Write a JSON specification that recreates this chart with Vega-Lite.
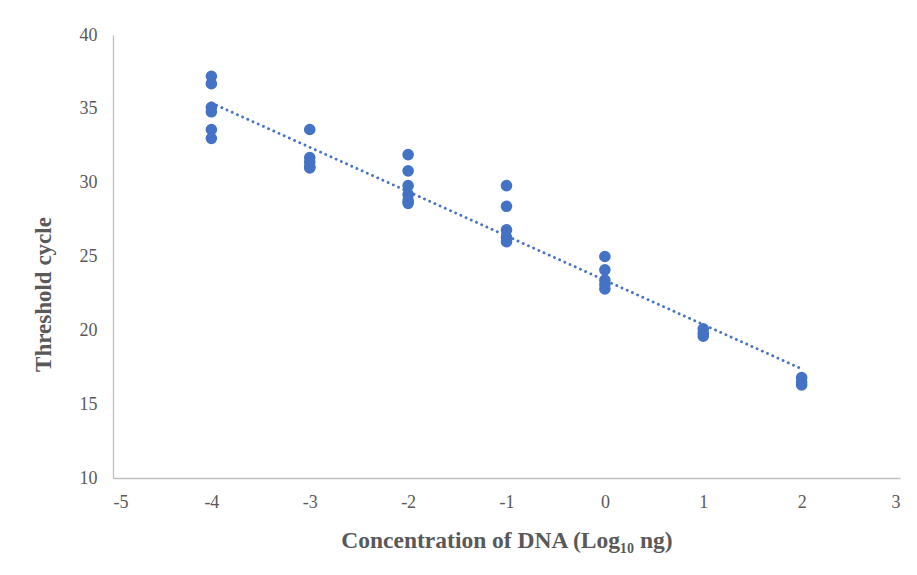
{
  "$schema": "https://vega.github.io/schema/vega-lite/v6.json",
  "width": 787,
  "height": 443,
  "autosize": "none",
  "padding": {"left": 113, "top": 35, "right": 17, "bottom": 97},
  "background": "white",
  "config": {"view": {"stroke": null}},
  "data": {"values": [
    {"x": -4, "y": 37.2}, {"x": -4, "y": 36.7}, {"x": -4, "y": 35.1}, {"x": -4, "y": 34.8}, {"x": -4, "y": 33.6}, {"x": -4, "y": 33.0},
    {"x": -3, "y": 33.6}, {"x": -3, "y": 31.7}, {"x": -3, "y": 31.4}, {"x": -3, "y": 31.1}, {"x": -3, "y": 31.0},
    {"x": -2, "y": 31.9}, {"x": -2, "y": 30.8}, {"x": -2, "y": 29.8}, {"x": -2, "y": 29.2}, {"x": -2, "y": 28.8}, {"x": -2, "y": 28.6},
    {"x": -1, "y": 29.8}, {"x": -1, "y": 28.4}, {"x": -1, "y": 26.8}, {"x": -1, "y": 26.3}, {"x": -1, "y": 26.0},
    {"x": 0, "y": 25.0}, {"x": 0, "y": 24.1}, {"x": 0, "y": 23.4}, {"x": 0, "y": 23.1}, {"x": 0, "y": 22.8},
    {"x": 1, "y": 20.1}, {"x": 1, "y": 19.8}, {"x": 1, "y": 19.6},
    {"x": 2, "y": 16.8}, {"x": 2, "y": 16.5}, {"x": 2, "y": 16.3}
  ]},
  "encoding": {
    "x": {"field": "x", "type": "quantitative",
      "scale": {"domain": [-5, 3], "nice": false, "zero": false},
      "axis": {"title": "Concentration of DNA (Log₁₀ ng)", "values": [-5, -4, -3, -2, -1, 0, 1, 2, 3],
        "labelExpr": "replace(datum.label, '−', '-')",
        "grid": false, "ticks": false, "domainColor": "#bfbfbf", "domainWidth": 1.3,
        "labelFont": "Liberation Serif", "labelFontSize": 18, "labelColor": "#595959", "labelPadding": 15,
        "titleFont": "Liberation Serif", "titleFontSize": 23.5, "titleFontWeight": "bold", "titleColor": "#595959",
        "titleY": 62, "titleBaseline": "middle"}},
    "y": {"field": "y", "type": "quantitative",
      "scale": {"domain": [10, 40], "nice": false, "zero": false},
      "axis": {"title": "Threshold cycle", "values": [10, 15, 20, 25, 30, 35, 40],
        "grid": false, "ticks": false, "domainColor": "#bfbfbf", "domainWidth": 1.3,
        "labelFont": "Liberation Serif", "labelFontSize": 18, "labelColor": "#595959", "labelPadding": 16,
        "titleFont": "Liberation Serif", "titleFontSize": 23, "titleFontWeight": "bold", "titleColor": "#595959",
        "titleX": -70, "titleY": 259, "titleBaseline": "middle"}}
  },
  "layer": [
    {"mark": {"type": "point", "filled": true, "size": 135, "opacity": 1, "color": "#4472C4"}},
    {"transform": [{"regression": "y", "on": "x"}],
     "mark": {"type": "line", "color": "#4472C4", "strokeWidth": 2.8, "strokeCap": "round", "strokeDash": [0.1, 5.6]}}
  ]
}
